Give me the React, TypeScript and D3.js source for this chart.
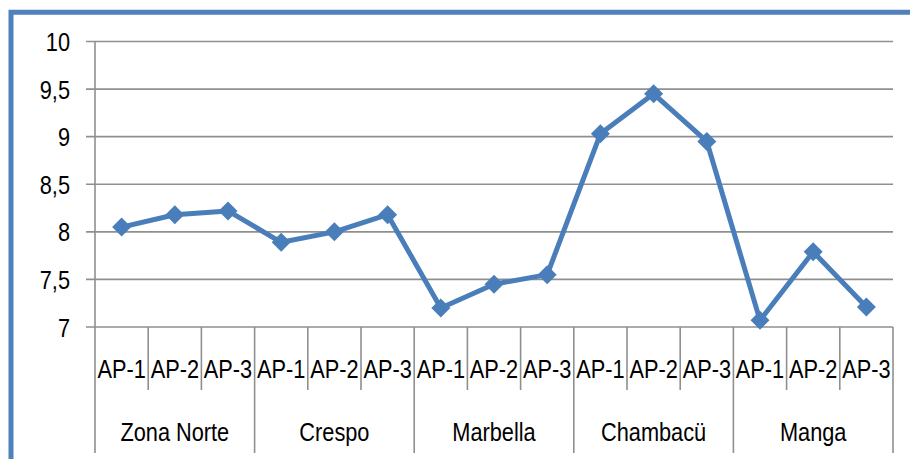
import React from "react";
import * as d3 from "d3";

const groups = ["Zona Norte", "Crespo", "Marbella", "Chambacü", "Manga"];
const subLabels = ["AP-1", "AP-2", "AP-3"];
const values = [
  8.05, 8.18, 8.22,
  7.89, 8.0, 8.18,
  7.2, 7.45, 7.55,
  9.03, 9.45, 8.95,
  7.07, 7.79, 7.21,
];
const yTicks = [7, 7.5, 8, 8.5, 9, 9.5, 10];

const W = 910;
const H = 459;
const left = 95;
const right = 893;
const top = 41.5;
const bottom = 327;
const axisBottom = 453;
const blue = "#4A7EBB";
const grid = "#8f8f8f";
const font = "'Liberation Sans', Arial, sans-serif";
const sx = 0.87;

export default function App() {
  const n = values.length;
  const x = d3.scaleBand<number>().domain(d3.range(n)).range([left, right]).padding(0);
  const y = d3.scaleLinear().domain([7, 10]).range([bottom, top]);
  const line = d3
    .line<number>()
    .x((_, i) => (x(i) as number) + x.bandwidth() / 2)
    .y((d) => y(d));
  const fmt = (v: number) => String(v).replace(".", ",");
  const r = 9.5;
  const diamond = `M0,${-r}L${r},0L0,${r}L${-r},0Z`;
  const Txt = ({ cx, cy, anchor, children }: any) => (
    <g transform={`translate(${cx},${cy}) scale(${sx},1)`}>
      <text
        x={0}
        y={0}
        textAnchor={anchor}
        dominantBaseline="central"
        fontFamily={font}
        fontSize={25}
        fill="#000"
      >
        {children}
      </text>
    </g>
  );
  return (
    <svg
      width={W}
      height={H}
      style={{ position: "absolute", left: 0, top: 0, background: "#fff" }}
    >
      <rect x={0} y={0} width={W} height={H} fill="#fff" />
      <path d={`M11,${H + 10}V12.3H${W + 10}`} fill="none" stroke="#4F81BD" strokeWidth={5} />
      {yTicks.map((t) => (
        <g key={t}>
          <line x1={86} x2={right} y1={y(t)} y2={y(t)} stroke={grid} strokeWidth={1.6} />
          <Txt cx={70} cy={y(t) + 1} anchor="end">
            {fmt(t)}
          </Txt>
        </g>
      ))}
      <line x1={left} x2={left} y1={top} y2={axisBottom} stroke={grid} strokeWidth={1.6} />
      {d3.range(1, n + 1).map((i) => {
        const xx = i === n ? right : (x(i) as number);
        const major = i % 3 === 0;
        return (
          <line
            key={i}
            x1={xx}
            x2={xx}
            y1={bottom}
            y2={major ? axisBottom : 390}
            stroke={grid}
            strokeWidth={1.6}
          />
        );
      })}
      {values.map((_, i) => (
        <Txt key={i} cx={(x(i) as number) + x.bandwidth() / 2} cy={369} anchor="middle">
          {subLabels[i % 3]}
        </Txt>
      ))}
      {groups.map((g, gi) => (
        <Txt key={g} cx={(x(gi * 3) as number) + x.bandwidth() * 1.5} cy={432} anchor="middle">
          {g}
        </Txt>
      ))}
      <path d={line(values) || ""} fill="none" stroke={blue} strokeWidth={5} strokeLinejoin="round" />
      {values.map((v, i) => (
        <path
          key={i}
          d={diamond}
          transform={`translate(${(x(i) as number) + x.bandwidth() / 2},${y(v)})`}
          fill={blue}
        />
      ))}
    </svg>
  );
}
